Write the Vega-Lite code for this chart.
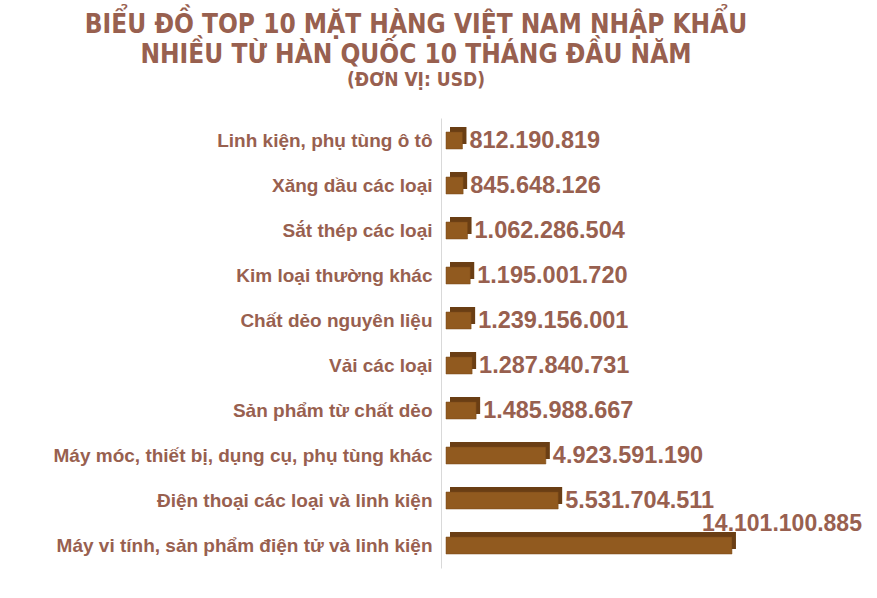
{
  "$schema": "https://vega.github.io/schema/vega-lite/v6.json",
  "autosize": {"type": "none"},
  "width": 436,
  "height": 450,
  "padding": {"left": 441, "top": 118, "right": 0, "bottom": 30},
  "background": "white",
  "config": {"view": {"stroke": null}},
  "title": {
    "text": ["BIỂU ĐỒ TOP 10 MẶT HÀNG VIỆT NAM NHẬP KHẨU", "NHIỀU TỪ HÀN QUỐC 10 THÁNG ĐẦU NĂM"],
    "subtitle": "(ĐƠN VỊ: USD)",
    "anchor": "middle",
    "frame": "group",
    "orient": "top",
    "offset": 0,
    "dx": -243,
    "dy": -28,
    "font": "Liberation Sans Narrow, DejaVu Sans Condensed, sans-serif",
    "fontSize": 26,
    "fontWeight": "bold",
    "lineHeight": 30,
    "color": "#98604F",
    "subtitleFont": "Liberation Sans Narrow, DejaVu Sans Condensed, sans-serif",
    "subtitleFontSize": 19,
    "subtitleFontWeight": "bold",
    "subtitleColor": "#98604F",
    "subtitlePadding": 3
  },
  "data": {
    "values": [
      {"item": "Linh kiện, phụ tùng ô tô", "value": 812190819, "label": "812.190.819"},
      {"item": "Xăng dầu các loại", "value": 845648126, "label": "845.648.126"},
      {"item": "Sắt thép các loại", "value": 1062286504, "label": "1.062.286.504"},
      {"item": "Kim loại thường khác", "value": 1195001720, "label": "1.195.001.720"},
      {"item": "Chất dẻo nguyên liệu", "value": 1239156001, "label": "1.239.156.001"},
      {"item": "Vải các loại", "value": 1287840731, "label": "1.287.840.731"},
      {"item": "Sản phẩm từ chất dẻo", "value": 1485988667, "label": "1.485.988.667"},
      {"item": "Máy móc, thiết bị, dụng cụ, phụ tùng khác", "value": 4923591190, "label": "4.923.591.190"},
      {"item": "Điện thoại các loại và linh kiện", "value": 5531704511, "label": "5.531.704.511"},
      {"item": "Máy vi tính, sản phẩm điện tử và linh kiện", "value": 14101100885, "label": "14.101.100.885"}
    ]
  },
  "encoding": {
    "y": {
      "field": "item",
      "type": "nominal",
      "sort": null,
      "title": null,
      "axis": {
        "domainColor": "#D9D9D9",
        "ticks": false,
        "labelPadding": 9,
        "labelFont": "Liberation Sans, Arial, sans-serif",
        "labelFontSize": 19,
        "labelFontWeight": "bold",
        "labelColor": "#98604F",
        "labelLimit": 430
      }
    },
    "x": {
      "field": "value",
      "type": "quantitative",
      "scale": {"domain": [0, 21500000000]},
      "axis": null
    }
  },
  "layer": [
    {
      "mark": {"type": "bar", "size": 17, "xOffset": 9, "yOffset": -5, "color": "#6A3E14"}
    },
    {
      "mark": {"type": "bar", "size": 17, "xOffset": 5, "color": "#915A1F", "stroke": "#7A4A18", "strokeWidth": 0.5}
    },
    {
      "transform": [{"filter": "datum.value < 10000000000"}],
      "mark": {
        "type": "text",
        "align": "left",
        "baseline": "middle",
        "dx": 12,
        "font": "Liberation Sans, Arial, sans-serif",
        "fontSize": 23.5,
        "fontWeight": "bold",
        "color": "#98604F"
      },
      "encoding": {"text": {"field": "label"}}
    },
    {
      "transform": [{"filter": "datum.value >= 10000000000"}],
      "mark": {
        "type": "text",
        "align": "right",
        "baseline": "middle",
        "dx": 135,
        "dy": -22,
        "font": "Liberation Sans, Arial, sans-serif",
        "fontSize": 23,
        "fontWeight": "bold",
        "color": "#98604F"
      },
      "encoding": {"text": {"field": "label"}}
    }
  ]
}
